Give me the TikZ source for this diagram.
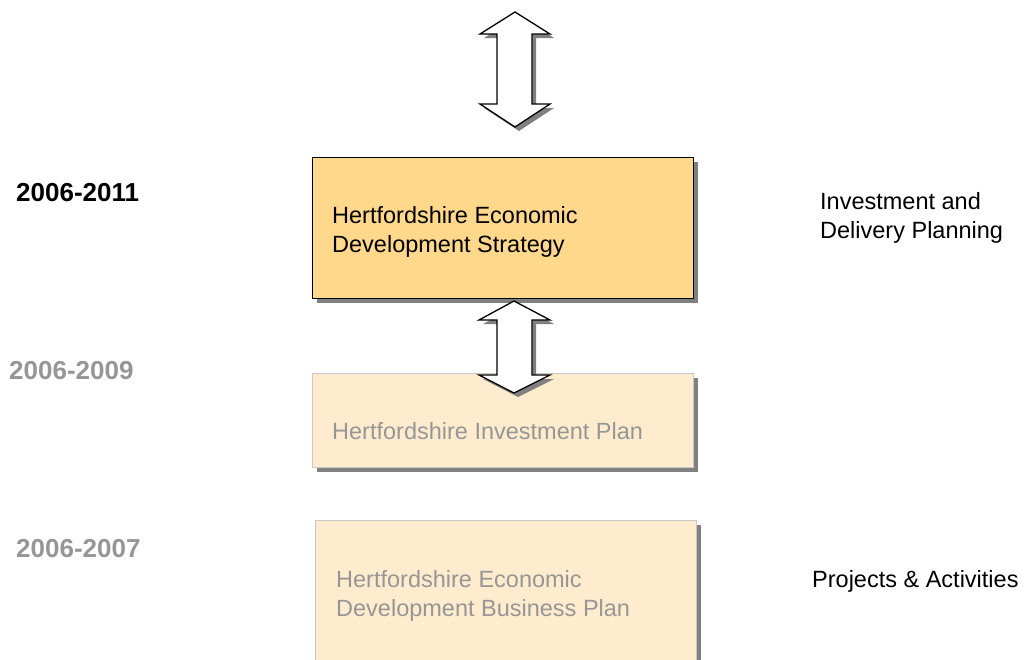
\documentclass[tikz,border=0pt]{standalone}
\usepackage{fontspec}
\setmainfont{Liberation Sans}
\definecolor{strongfill}{RGB}{255,216,140}
\definecolor{fadefill}{RGB}{255,236,206}
\definecolor{fadeline}{RGB}{200,200,200}
\definecolor{fadetext}{RGB}{150,150,150}
\definecolor{shadowgray}{RGB}{128,128,128}
\tikzset{
  boxbase/.style={rectangle, anchor=north west, inner sep=0pt, line width=1.3pt},
  strongbox/.style={boxbase, draw=black, fill=strongfill},
  fadebox/.style={boxbase, draw=fadeline, fill=fadefill},
  boxshadow/.style={fill=shadowgray},
  boxtext/.style={anchor=base west, inner sep=0pt, align=left, font=\fontsize{23.5}{29}\selectfont},
  yeartext/.style={anchor=base west, inner sep=0pt, font=\fontsize{26}{30}\selectfont\bfseries},
  arrowshape/.style={draw=black, fill=white, line width=1.3pt, line join=miter},
  arrowshadow/.style={fill=shadowgray, draw=none}
}
\begin{document}
\begin{tikzpicture}[x=1pt,y=-1pt]
\useasboundingbox (0,0) rectangle (1031,659);
% box 1
\fill[boxshadow] (317,162) rectangle (698,303);
\node[strongbox, minimum width=381pt, minimum height=141pt] (b1) at (312,157) {};
\node[boxtext] (t1) at (332,252) {Hertfordshire Economic\\Development Strategy};
% box 2
\fill[boxshadow] (317,378) rectangle (698,472);
\node[fadebox, minimum width=381pt, minimum height=94pt] (b2) at (312,373) {};
\node[boxtext, text=fadetext] (t2) at (332,439) {Hertfordshire Investment Plan};
% box 3
\fill[boxshadow] (320,525) rectangle (701,680);
\node[fadebox, minimum width=381pt, minimum height=160pt] (b3) at (315,520) {};
\node[boxtext, text=fadetext] (t3) at (336,616) {Hertfordshire Economic\\Development Business Plan};
% years
\node[yeartext] (y1) at (16,201) {2006-2011};
\node[yeartext, text=fadetext] (y2) at (9,379) {2006-2009};
\node[yeartext, text=fadetext] (y3) at (16,557) {2006-2007};
% right labels
\node[boxtext] (r1) at (820,238) {Investment and\\Delivery Planning};
\node[boxtext] (r2) at (812,587) {Projects \& Activities};
% top arrow
\begin{scope}[shift={(4,4)}]
\fill[arrowshadow] (515,12) -- (550,34) -- (532,34) -- (532,104) -- (550,104) -- (515,127) -- (480,104) -- (497,104) -- (497,34) -- (480,34) -- cycle;
\end{scope}
\draw[arrowshape] (515,12) -- (550,34) -- (532,34) -- (532,104) -- (550,104) -- (515,127) -- (480,104) -- (497,104) -- (497,34) -- (480,34) -- cycle;
% middle arrow
\begin{scope}[shift={(4,4)}]
\fill[arrowshadow] (514,301) -- (550,320) -- (532,320) -- (532,375) -- (550,375) -- (514,393) -- (479,375) -- (497,375) -- (497,320) -- (479,320) -- cycle;
\end{scope}
\draw[arrowshape] (514,301) -- (550,320) -- (532,320) -- (532,375) -- (550,375) -- (514,393) -- (479,375) -- (497,375) -- (497,320) -- (479,320) -- cycle;
\end{tikzpicture}
\end{document}
